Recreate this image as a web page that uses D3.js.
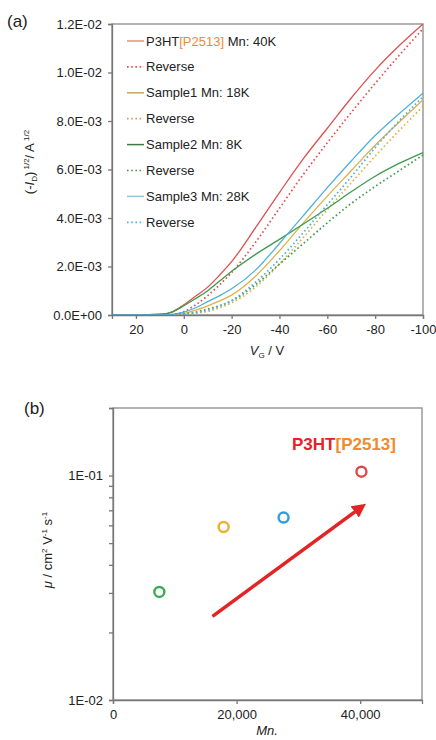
<!DOCTYPE html>
<html>
<head>
<meta charset="UTF-8">
<title>P3HT transfer curves and mobility</title>
<script src="https://cdn.jsdelivr.net/npm/d3@7/dist/d3.min.js"></script>
<style>
    body { margin: 0; background: #fff; }
    svg { font-family: "Liberation Sans", Arial, sans-serif; }
    .frame { fill: none; stroke: #8a8a8a; stroke-width: 1.3px; }
    .axis path, .axis line { stroke: #777; stroke-width: 1.3px; }
    .axis text { font-size: 13px; fill: #222; font-family: "Liberation Sans", Arial, sans-serif; }
</style>
</head>
<body>
<svg width="436" height="740"></svg>
<script>

    // ---- data, panel (a): sqrt(-Id) vs Vg (values in units of 1E-3) ----
    var vg = [30, 20, 10, 5, 0, -5, -10, -15, -20, -30, -40, -50, -60, -70, -80, -90, -100];

    var p3htFwd    = [0, 0, 0.02, 0.12, 0.42, 0.78, 1.15, 1.65, 2.2, 3.6, 5.05, 6.45, 7.7, 8.95, 10.1, 11.1, 12.0];
    var p3htRev    = [0, 0, 0, 0.02, 0.14, 0.42, 0.8, 1.25, 1.75, 3.0, 4.4, 5.8, 7.1, 8.35, 9.55, 10.7, 11.8];
    var sample1Fwd = [0, 0, 0, 0.01, 0.06, 0.2, 0.38, 0.58, 0.82, 1.6, 2.65, 3.8, 4.9, 5.95, 7.0, 7.95, 8.87];
    var sample1Rev = [0, 0, 0, 0, 0.02, 0.07, 0.15, 0.3, 0.5, 1.15, 2.1, 3.2, 4.35, 5.45, 6.55, 7.6, 8.6];
    var sample2Fwd = [0, 0, 0.03, 0.12, 0.38, 0.68, 1.0, 1.4, 1.8, 2.5, 3.12, 3.75, 4.4, 5.08, 5.72, 6.25, 6.7];
    var sample2Rev = [0, 0, 0, 0.01, 0.05, 0.12, 0.25, 0.38, 0.58, 1.25, 2.1, 2.95, 3.8, 4.6, 5.3, 5.95, 6.6];
    var sample3Fwd = [0, 0, 0, 0.03, 0.12, 0.3, 0.55, 0.8, 1.08, 1.85, 2.95, 4.1, 5.25, 6.35, 7.4, 8.3, 9.15];
    var sample3Rev = [0, 0, 0, 0.01, 0.03, 0.1, 0.2, 0.38, 0.6, 1.35, 2.3, 3.4, 4.55, 5.7, 6.9, 8.0, 9.0];

    var seriesNames  = ["P3HT", "Reverse", "Sample1 Mn: 18K", "Reverse", "Sample2 Mn: 8K", "Reverse", "Sample3 Mn: 28K", "Reverse"];
    var seriesColors = ["#e0504e", "#e0504e", "#e0b048", "#e0b048", "#3f9a4c", "#3f9a4c", "#4fb0de", "#4fb0de"];
    var legendColors = ["#f08a7c", "#e0504e", "#c4a466", "#c8a050", "#3d7a40", "#3f9a4c", "#96c4e0", "#4fb0de"];
    var seriesDotted = [false, true, false, true, false, true, false, true];
    var seriesValues = [p3htFwd, p3htRev, sample1Fwd, sample1Rev, sample2Fwd, sample2Rev, sample3Fwd, sample3Rev];

    var yTicksA = [0, 2, 4, 6, 8, 10, 12];
    var yTickLabelsA = ["0.0E+00", "2.0E-03", "4.0E-03", "6.0E-03", "8.0E-03", "1.0E-02", "1.2E-02"];
    var xTicksA = [20, 0, -20, -40, -60, -80, -100];

    // ---- data, panel (b): mobility vs Mn ----
    var mn       = [7500, 17900, 27600, 40200];
    var mobility = [0.0303, 0.059, 0.065, 0.104];
    var dotColors = ["#3aac55", "#eeb032", "#2f9ee0", "#e04848"];
    var arrowMn  = [16100, 41000];
    var arrowMu  = [0.0236, 0.0752];
    var yTicksB  = [0.01, 0.02, 0.03, 0.04, 0.05, 0.06, 0.07, 0.08, 0.09, 0.1, 0.2];
    var xTicksB  = [0, 20000, 40000];

    var svg = d3.select("svg");

    // ================= panel (a) =================
    var a = { left: 112, right: 423, top: 24, bottom: 315 };

    var xA = d3.scaleLinear().domain([30, -100]).range([a.left, a.right]);
    var yA = d3.scaleLinear().domain([0, 12]).range([a.bottom, a.top]);

    svg.append("rect").attr("class", "frame")
        .attr("x", a.left).attr("y", a.top)
        .attr("width", a.right - a.left).attr("height", a.bottom - a.top);

    var gA = svg.append("g");

    var line = d3.line()
        .x(function(d) { return xA(d[0]); })
        .y(function(d) { return yA(d[1]); })
        .curve(d3.curveMonotoneX);

    seriesValues.forEach(function(vals, i) {
        var pts = vg.map(function(v, j) { return [v, vals[j]]; });
        gA.append("path")
            .attr("d", line(pts))
            .attr("fill", "none")
            .attr("stroke", seriesColors[i])
            .attr("stroke-width", seriesDotted[i] ? 1.7 : 1.3)
            .attr("stroke-dasharray", seriesDotted[i] ? "1.6,2.6" : null);
    });

    svg.append("g").attr("class", "axis")
        .attr("transform", "translate(" + a.left + ",0)")
        .call(d3.axisLeft(yA).tickValues(yTicksA).tickSize(4).tickPadding(6)
            .tickFormat(function(d, i) { return yTickLabelsA[i]; }));

    svg.append("g").attr("class", "axis")
        .attr("transform", "translate(0," + a.bottom + ")")
        .call(d3.axisBottom(xA).tickValues(xTicksA).tickSize(4).tickPadding(6)
            .tickFormat(function(d) { return d < 0 ? "-" + (-d) : String(d); }));

    // legend
    var lg = svg.append("g");
    seriesNames.forEach(function(name, i) {
        var y = 41 + i * 25.9;
        lg.append("line")
            .attr("x1", 127).attr("x2", 144).attr("y1", y).attr("y2", y)
            .attr("stroke", legendColors[i])
            .attr("stroke-width", seriesDotted[i] ? 1.7 : 1.5)
            .attr("stroke-dasharray", seriesDotted[i] ? "1.6,2.6" : null);
        var t = lg.append("text").attr("x", 146).attr("y", y + 4.5)
            .attr("font-size", 13).attr("fill", "#222");
        if (i === 0) {
            t.append("tspan").text("P3HT");
            t.append("tspan").attr("fill", "#f08a30").text("[P2513]");
            t.append("tspan").text(" Mn: 40K");
        } else {
            t.text(name);
        }
    });

    // axis titles (a)
    var ylab = svg.append("text")
        .attr("transform", "translate(34,162) rotate(-90)")
        .attr("text-anchor", "middle").attr("font-size", 13).attr("fill", "#222");
    ylab.append("tspan").text("(-");
    ylab.append("tspan").attr("font-style", "italic").text("I");
    ylab.append("tspan").attr("font-size", 8).attr("dy", 3).text("D");
    ylab.append("tspan").attr("dy", -3).text(")");
    ylab.append("tspan").attr("font-size", 8).attr("dy", -5).text(" 1/2");
    ylab.append("tspan").attr("dy", 5).text("/ A");
    ylab.append("tspan").attr("font-size", 8).attr("dy", -5).text(" 1/2");

    var xlab = svg.append("text")
        .attr("x", 267).attr("y", 355)
        .attr("text-anchor", "middle").attr("font-size", 13).attr("fill", "#222");
    xlab.append("tspan").attr("font-style", "italic").text("V");
    xlab.append("tspan").attr("font-size", 8).attr("dy", 3).text("G");
    xlab.append("tspan").attr("dy", -3).text(" / V");

    svg.append("text").attr("x", 7).attr("y", 27)
        .attr("font-size", 17).attr("fill", "#222").text("(a)");

    // ================= panel (b) =================
    var b = { left: 113, right: 422, top: 408, bottom: 700 };

    var xB = d3.scaleLinear().domain([0, 50000]).range([b.left, b.right]);
    var yB = d3.scaleLog().domain([0.01, 0.2]).range([b.bottom, b.top]);

    svg.append("rect").attr("class", "frame")
        .attr("x", b.left).attr("y", b.top)
        .attr("width", b.right - b.left).attr("height", b.bottom - b.top);

    svg.append("g").attr("class", "axis")
        .attr("transform", "translate(" + b.left + ",0)")
        .call(d3.axisLeft(yB).tickValues(yTicksB).tickSize(4).tickPadding(6)
            .tickFormat(function(d) {
                if (Math.abs(d - 0.1) < 1e-9) return "1E-01";
                if (Math.abs(d - 0.01) < 1e-9) return "1E-02";
                return "";
            }));

    svg.append("g").attr("class", "axis")
        .attr("transform", "translate(0," + b.bottom + ")")
        .call(d3.axisBottom(xB).tickValues(xTicksB).tickSize(4).tickPadding(6)
            .tickFormat(d3.format(",")));

    // arrow
    var defs = svg.append("defs");
    defs.append("marker")
        .attr("id", "head").attr("viewBox", "0 0 10 10")
        .attr("refX", 5).attr("refY", 5)
        .attr("markerWidth", 4).attr("markerHeight", 4)
        .attr("orient", "auto")
        .append("path").attr("d", "M0,0 L10,5 L0,10 z").attr("fill", "#e32424");

    svg.append("line")
        .attr("x1", xB(arrowMn[0])).attr("y1", yB(arrowMu[0]))
        .attr("x2", xB(arrowMn[1]) - 6).attr("y2", yB(arrowMu[1]) + 4.5)
        .attr("stroke", "#e32424").attr("stroke-width", 3.5)
        .attr("marker-end", "url(#head)");

    svg.append("g").selectAll("circle")
        .data(mn)
        .enter().append("circle")
        .attr("cx", function(d) { return xB(d); })
        .attr("cy", function(d, i) { return yB(mobility[i]); })
        .attr("r", 5)
        .attr("fill", "#fff")
        .attr("stroke", function(d, i) { return dotColors[i]; })
        .attr("stroke-width", 2.4);

    var lab = svg.append("text").attr("x", 292).attr("y", 450)
        .attr("font-size", 17).attr("font-weight", "bold");
    lab.append("tspan").attr("fill", "#e8202a").text("P3HT");
    lab.append("tspan").attr("fill", "#f28a2a").text("[P2513]");

    var ylabB = svg.append("text")
        .attr("transform", "translate(52,550) rotate(-90)")
        .attr("text-anchor", "middle").attr("font-size", 13).attr("fill", "#222");
    ylabB.append("tspan").attr("font-style", "italic").text("\u03bc");
    ylabB.append("tspan").text(" / cm");
    ylabB.append("tspan").attr("font-size", 8).attr("dy", -5).text("2");
    ylabB.append("tspan").attr("dy", 5).text(" V");
    ylabB.append("tspan").attr("font-size", 8).attr("dy", -5).text("-1");
    ylabB.append("tspan").attr("dy", 5).text(" s");
    ylabB.append("tspan").attr("font-size", 8).attr("dy", -5).text("-1");

    svg.append("text").attr("x", 267).attr("y", 735)
        .attr("text-anchor", "middle").attr("font-size", 13)
        .attr("font-style", "italic").attr("fill", "#222").text("Mn.");

    svg.append("text").attr("x", 24).attr("y", 414)
        .attr("font-size", 17).attr("fill", "#222").text("(b)");

</script>
</body>
</html>
